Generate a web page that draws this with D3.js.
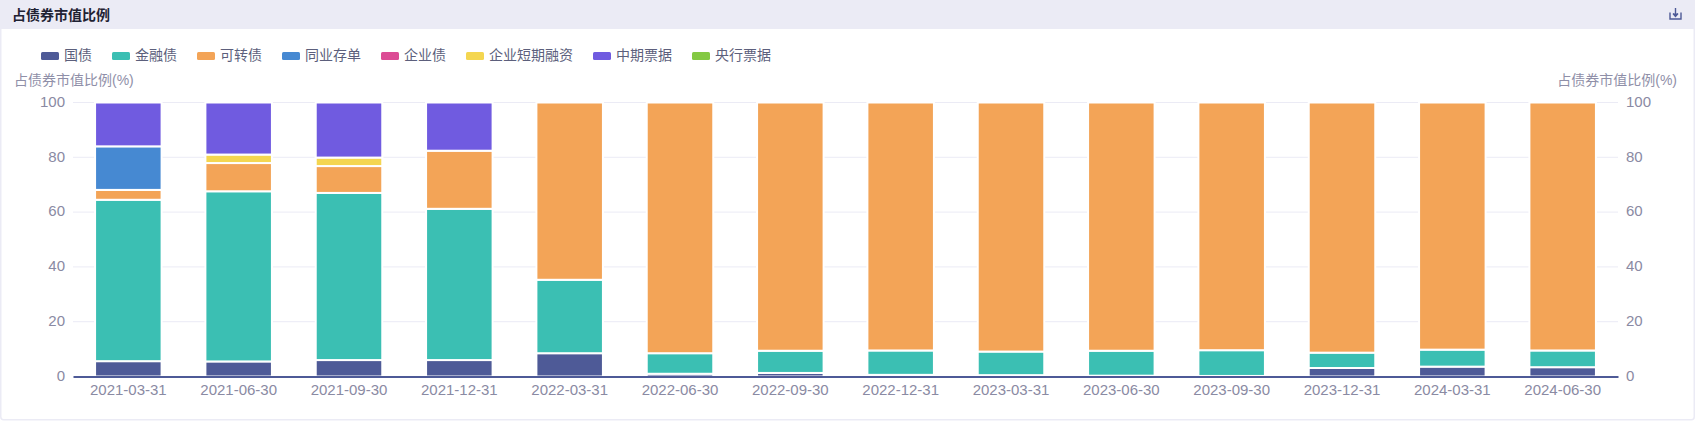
<!DOCTYPE html>
<html>
<head>
<meta charset="utf-8">
<script src="https://cdn.jsdelivr.net/npm/d3@7"></script>
<style>
  html, body { margin: 0; padding: 0; background: #fff; }
  svg { display: block; font-family: "Liberation Sans", "Noto Sans CJK SC", sans-serif; }
</style>
</head>
<body>
<div id="chart"></div>
<script>
const title = '占债券市值比例';
const axisName = '占债券市值比例(%)';
const dates = ['2021-03-31', '2021-06-30', '2021-09-30', '2021-12-31', '2022-03-31', '2022-06-30', '2022-09-30',
  '2022-12-31', '2023-03-31', '2023-06-30', '2023-09-30', '2023-12-31', '2024-03-31', '2024-06-30'];
const yTicks = [0, 20, 40, 60, 80, 100];

const seriesNames = ['国债', '金融债', '可转债', '同业存单', '企业债', '企业短期融资', '中期票据', '央行票据'];
const seriesColors = ['#4e5a97', '#3bbfb3', '#f3a457', '#4689d2', '#dc4c95', '#f4d650', '#705be0', '#84c943'];

const guozhai = [5.6, 5.5, 6.0, 6.0, 8.5, 1.0, 1.3, 0.6, 0.5, 0.3, 0.2, 3.1, 3.6, 3.4];
const jinrong = [58.9, 62.1, 61.0, 55.2, 26.8, 7.5, 8.1, 8.9, 8.6, 9.1, 9.4, 5.6, 6.2, 6.1];
const kezhuan = [3.6, 10.3, 9.8, 21.2, 64.7, 91.5, 90.6, 90.5, 90.9, 90.6, 90.4, 91.3, 90.2, 90.5];
const tongye = [15.9, 0, 0, 0, 0, 0, 0, 0, 0, 0, 0, 0, 0, 0];
const qiye = [0, 0, 0, 0, 0, 0, 0, 0, 0, 0, 0, 0, 0, 0];
const duanrong = [0, 3.1, 3.1, 0, 0, 0, 0, 0, 0, 0, 0, 0, 0, 0];
const zhongpiao = [16, 19, 20.1, 17.6, 0, 0, 0, 0, 0, 0, 0, 0, 0, 0];
const yangpiao = [0, 0, 0, 0, 0, 0, 0, 0, 0, 0, 0, 0, 0, 0];

const seriesValues = [guozhai, jinrong, kezhuan, tongye, qiye, duanrong, zhongpiao, yangpiao];

const W = 1695, H = 421;
const margin = { top: 102.5, right: 77, bottom: 44.5, left: 73 };

const rows = dates.map((d, i) => {
  const row = { date: d };
  seriesNames.forEach((s, j) => { row[s] = seriesValues[j][i]; });
  return row;
});
const stacked = d3.stack().keys(seriesNames)(rows);

const x = d3.scaleBand().domain(dates).range([margin.left, W - margin.right]).paddingInner(0.397).paddingOuter(0.2);
const y = d3.scaleLinear().domain([0, 100]).range([H - margin.bottom, margin.top]);

const svg = d3.select('#chart').append('svg').attr('width', W).attr('height', H);

// card and header
svg.append('rect').attr('x', 0.75).attr('y', 0.75).attr('width', W - 1.5).attr('height', H - 2)
  .attr('fill', '#fff').attr('stroke', '#ebebf5').attr('stroke-width', 1.5).attr('rx', 3);
svg.append('rect').attr('width', W).attr('height', 29).attr('fill', '#ebebf5');
svg.append('text').attr('x', 12).attr('y', 20).attr('font-size', 14).attr('font-weight', 700)
  .attr('fill', '#1f2233').text(title);

// download icon
const icon = svg.append('g').attr('fill', 'none').attr('stroke', '#4e5a97').attr('stroke-width', 1.4);
icon.append('path').attr('d', 'M1670 12.5v6.5h11v-6.5');
icon.append('path').attr('d', 'M1675.5 8v8');
icon.append('path').attr('d', 'M1673 13.5l2.5 3l2.5-3').attr('fill', '#4e5a97');

// legend
const legend = svg.append('g').attr('font-size', 14).attr('fill', '#5c5f7c');
let legendX = 41;
seriesNames.forEach((s, i) => {
  legend.append('rect').attr('x', legendX).attr('y', 52).attr('width', 18).attr('height', 8).attr('rx', 1.5)
    .attr('fill', seriesColors[i]);
  const t = legend.append('text').attr('x', legendX + 23).attr('y', 60).text(s);
  legendX += 23 + t.node().getComputedTextLength() + 20;
});

// axis names
svg.append('text').attr('x', 14).attr('y', 85).attr('font-size', 14).attr('fill', '#8f8fa8').text(axisName);
svg.append('text').attr('x', 1677).attr('y', 85).attr('text-anchor', 'end').attr('font-size', 14)
  .attr('fill', '#8f8fa8').text(axisName);

// grid
svg.append('g').selectAll('line').data(yTicks.filter(d => d > 0)).join('line')
  .attr('x1', margin.left).attr('x2', W - margin.right)
  .attr('y1', d => y(d)).attr('y2', d => y(d))
  .attr('stroke', '#ebebf5').attr('stroke-width', 1);

// bars
svg.append('g').selectAll('g').data(stacked).join('g')
  .attr('fill', (d, i) => seriesColors[i])
  .selectAll('rect').data(d => d.filter(v => v[1] - v[0] > 0)).join('rect')
  .attr('x', d => x(d.data.date))
  .attr('y', d => y(d[1]))
  .attr('width', x.bandwidth())
  .attr('height', d => y(d[0]) - y(d[1]))
  .attr('stroke', '#fff').attr('stroke-width', 2);

// axes
const xAxis = svg.append('g').attr('transform', `translate(0,${H - margin.bottom})`)
  .call(d3.axisBottom(x).tickSize(0).tickPadding(8));
xAxis.select('.domain').attr('stroke', '#4e5a97').attr('stroke-width', 2);
xAxis.selectAll('text').attr('font-size', 15).attr('fill', '#8a8aa3')
  .attr('font-family', '"Liberation Sans", sans-serif');

const yLeft = svg.append('g').attr('transform', `translate(${margin.left},-1)`)
  .call(d3.axisLeft(y).tickValues(yTicks).tickSize(0).tickPadding(8));
const yRight = svg.append('g').attr('transform', `translate(${W - margin.right},-1)`)
  .call(d3.axisRight(y).tickValues(yTicks).tickSize(0).tickPadding(8));
[yLeft, yRight].forEach(a => {
  a.select('.domain').remove();
  a.selectAll('text').attr('font-size', 15).attr('fill', '#8a8aa3')
    .attr('font-family', '"Liberation Sans", sans-serif');
});
</script>
</body>
</html>
